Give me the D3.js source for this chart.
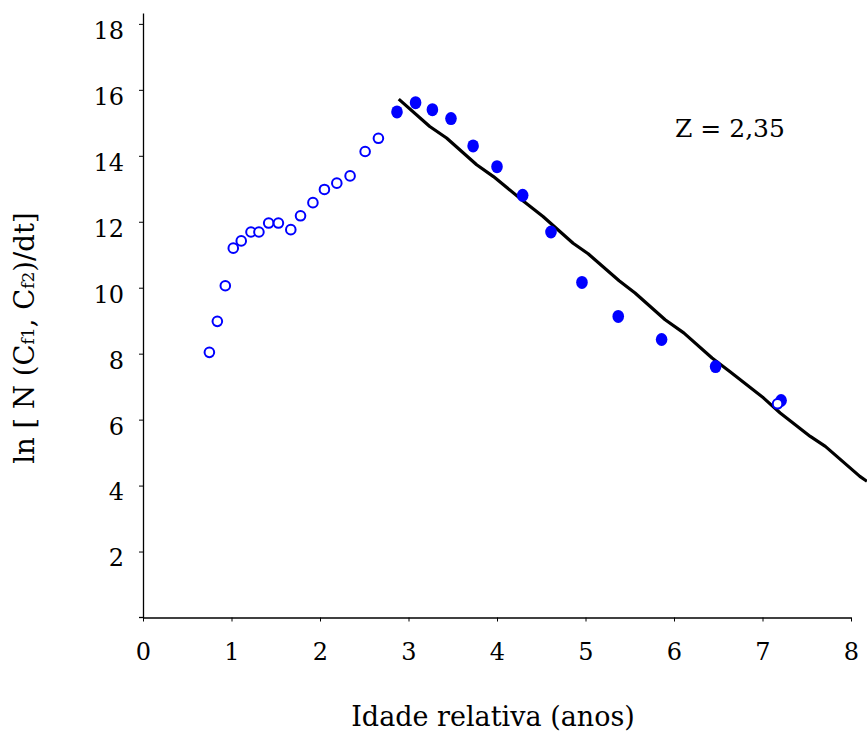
<!DOCTYPE html>
<html>
<head>
<meta charset="utf-8">
<script src="https://cdn.jsdelivr.net/npm/d3@7"></script>
<style>
  html, body { margin: 0; padding: 0; background: #fff; overflow: hidden; }
  text { font-family: "DejaVu Serif", serif; fill: #000; }
</style>
</head>
<body>
<svg id="chart" width="867" height="735"></svg>
<script>
'use strict';

// open circles (young ages, not used in the fit)
var openAge = [0.75, 0.84, 0.93, 1.02, 1.11, 1.22, 1.31, 1.42, 1.53, 1.67, 1.78, 1.92, 2.05, 2.19, 2.34, 2.51, 2.66, 7.17];
var openLn  = [8.04, 8.98, 10.06, 11.20, 11.42, 11.69, 11.69, 11.96, 11.96, 11.76, 12.18, 12.58, 12.98, 13.17, 13.39, 14.13, 14.53, 6.48];

// filled circles (descending limb)
var fullAge = [2.87, 3.08, 3.27, 3.48, 3.73, 4.00, 4.29, 4.61, 4.96, 5.37, 5.86, 6.47, 7.21];
var fullLn  = [15.33, 15.61, 15.40, 15.13, 14.30, 13.67, 12.80, 11.69, 10.16, 9.13, 8.43, 7.61, 6.58];

// regression line as traced
var fitAge = [2.89, 3.24, 3.43, 3.77, 3.96, 4.30, 4.52, 4.86, 5.03, 5.38, 5.56, 5.90, 6.11, 6.43, 6.63, 7.01, 7.20, 7.54, 7.71, 8.10, 8.18];
var fitLn  = [15.72, 14.89, 14.54, 13.73, 13.37, 12.62, 12.16, 11.35, 11.03, 10.21, 9.84, 9.03, 8.63, 7.87, 7.46, 6.66, 6.20, 5.49, 5.19, 4.28, 4.13];

var xTicks = [0, 1, 2, 3, 4, 5, 6, 7, 8];
var yTicks = [2, 4, 6, 8, 10, 12, 14, 16, 18];
var zLabel = 'Z = 2,35';

var svg = d3.select('#chart');

var x = d3.scaleLinear().domain([0, 8]).range([143, 851]);
var y = d3.scaleLinear().domain([0, 18.33]).range([617.5, 13]);

// axes
var xAxis = d3.axisBottom(x).tickValues(xTicks).tickSize(4).tickSizeOuter(0).tickPadding(21);
var yAxis = d3.axisLeft(y).tickValues(yTicks).tickSize(4).tickSizeOuter(0).tickPadding(15);

var gx = svg.append('g')
  .attr('transform', 'translate(0,' + y(0) + ')')
  .call(xAxis);
var gy = svg.append('g')
  .attr('transform', 'translate(' + x(0) + ',0)')
  .call(yAxis);

[gx, gy].forEach(function(g) {
  g.select('.domain').attr('stroke', '#000').attr('stroke-width', 1.3);
  g.selectAll('.tick line').attr('stroke', '#000');
  g.selectAll('.tick text')
    .attr('fill', '#000')
    .style('font-family', '"DejaVu Serif", serif')
    .style('font-size', '24px');
});
gy.selectAll('.tick text').attr('dy', '0.6em');
// x axis line runs a bit past the y axis
gx.append('line')
  .attr('x1', x(0) - 4).attr('x2', x(0))
  .attr('y1', 0).attr('y2', 0)
  .attr('stroke', '#000').attr('stroke-width', 1.3);

// fit line
var fit = fitAge.map(function(a, i) { return [a, fitLn[i]]; });
svg.append('path')
  .datum(fit)
  .attr('fill', 'none')
  .attr('stroke', '#000')
  .attr('stroke-width', 3.2)
  .attr('stroke-linejoin', 'round')
  .attr('d', d3.line()
    .x(function(d) { return x(d[0]); })
    .y(function(d) { return y(d[1]); }));

// points
var full = fullAge.map(function(a, i) { return { age: a, ln: fullLn[i] }; });
svg.append('g').selectAll('ellipse')
  .data(full)
  .enter().append('ellipse')
  .attr('cx', function(d) { return x(d.age); })
  .attr('cy', function(d) { return y(d.ln); })
  .attr('rx', 5.8)
  .attr('ry', 6.5)
  .attr('fill', '#0000ff');

var open = openAge.map(function(a, i) { return { age: a, ln: openLn[i] }; });
svg.append('g').selectAll('circle')
  .data(open)
  .enter().append('circle')
  .attr('cx', function(d) { return x(d.age); })
  .attr('cy', function(d) { return y(d.ln); })
  .attr('r', 4.8)
  .attr('fill', '#fff')
  .attr('stroke', '#0000ff')
  .attr('stroke-width', 2);

// labels
svg.append('text')
  .attr('x', 730).attr('y', 128)
  .attr('dy', '0.35em')
  .attr('text-anchor', 'middle')
  .style('font-size', '25px')
  .text(zLabel);

svg.append('text')
  .attr('x', 493).attr('y', 717)
  .attr('dy', '0.35em')
  .attr('text-anchor', 'middle')
  .style('font-size', '27px')
  .text('Idade relativa (anos)');

var yl = svg.append('text')
  .attr('transform', 'translate(24,338) rotate(-90)')
  .attr('dy', '0.35em')
  .attr('text-anchor', 'middle')
  .style('font-size', '27.5px');
yl.append('tspan').text('ln [ N (C');
yl.append('tspan').style('font-size', '17px').text('f1');
yl.append('tspan').text(', C');
yl.append('tspan').style('font-size', '17px').text('f2');
yl.append('tspan').text(')/dt]');
</script>
</body>
</html>
